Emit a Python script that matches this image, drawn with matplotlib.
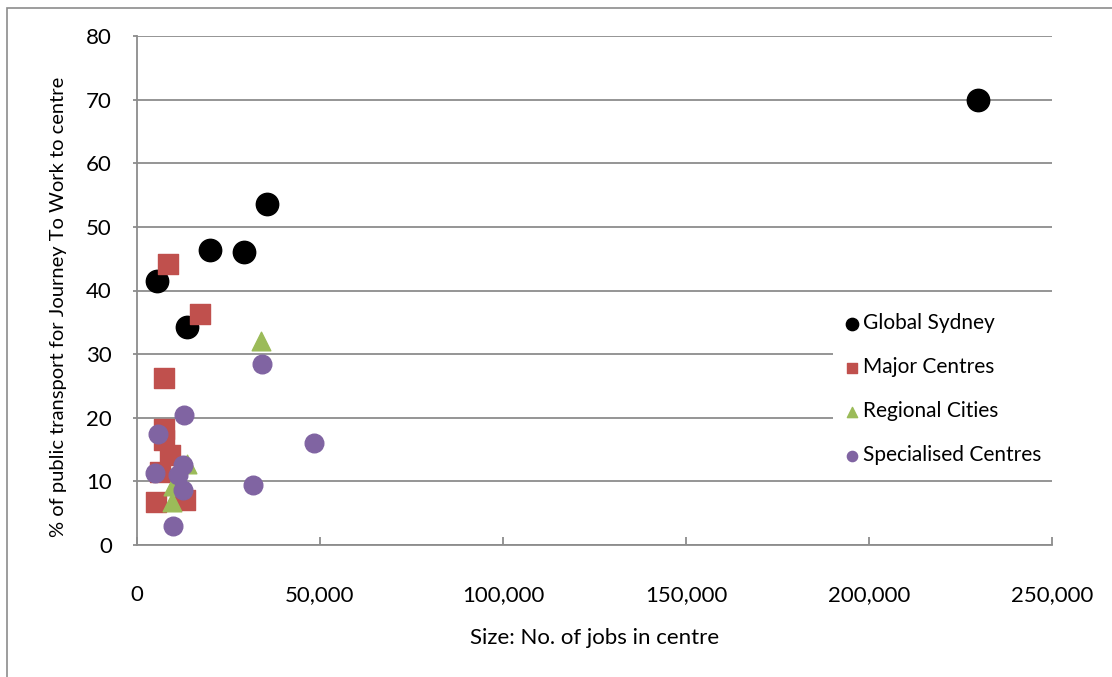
import matplotlib
matplotlib.use("Agg")
import matplotlib.pyplot as plt
from matplotlib.patches import Rectangle
from matplotlib.ticker import FuncFormatter, MultipleLocator

plt.rcParams['font.family'] = ['Lato', 'DejaVu Sans']

# jobs in centre (x) and % public transport for journey to work (y)
global_x = [5500, 13700, 19900, 29200, 35500, 229800]
global_y = [41.5, 34.2, 46.4, 46.1, 53.6, 69.9]

major_x = [8500, 17200, 7400, 7300, 7400, 9000, 6300, 5200, 13100]
major_y = [44.2, 36.3, 26.2, 18.2, 16.5, 14.1, 11.5, 6.8, 7.1]

regional_x = [33800, 13600, 9900, 9500]
regional_y = [32.0, 12.8, 9.2, 6.8]

special_x = [34200, 12900, 5800, 48400, 12700, 4900, 11300, 31600, 12700, 9900]
special_y = [28.4, 20.4, 17.5, 16.1, 12.6, 11.3, 11.0, 9.5, 8.6, 3.0]

fig = plt.figure(figsize=(11.12, 6.77), dpi=100)
ax = fig.add_axes([137 / 1112, 132 / 677, 915 / 1112, 509 / 677])

#outer chart frame like excel
fig.patches.append(Rectangle((7 / 1112, -0.01), 1.0, 1 - 8 / 677 + 0.01, transform=fig.transFigure,
                             fill=False, edgecolor='#8c8c8c', linewidth=1.2))

ax.scatter(global_x, global_y, s=260, color='black', marker='o', label='Global Sydney', zorder=3)
ax.scatter(major_x, major_y, s=200, color='#C0504D', marker='s', label='Major Centres', zorder=3)
ax.scatter(regional_x, regional_y, s=180, color='#9BBB59', marker='^', label='Regional Cities', zorder=3)
ax.scatter(special_x, special_y, s=180, color='#8064A2', marker='o', label='Specialised Centres', zorder=3)

ax.set_xlim(0, 250000)
ax.set_ylim(0, 80)
ax.xaxis.set_major_locator(MultipleLocator(50000))
ax.yaxis.set_major_locator(MultipleLocator(10))
ax.xaxis.set_major_formatter(FuncFormatter(lambda v, p: f"{int(v):,}"))

ax.grid(axis='y', color='#8c8c8c', linewidth=1.3)
ax.set_axisbelow(True)
for side in ['top', 'right']:
    ax.spines[side].set_visible(False)
for side in ['left', 'bottom']:
    ax.spines[side].set_color('#8c8c8c')
    ax.spines[side].set_linewidth(1.3)

ax.tick_params(axis='x', direction='in', length=6, color='#8c8c8c', width=1.3, pad=29, labelsize=16)
ax.tick_params(axis='y', direction='out', length=3, color='#8c8c8c', width=1.3, pad=15, labelsize=16)

ax.set_xlabel("Size: No. of jobs in centre", fontsize=16, labelpad=16)
ax.set_ylabel("% of public transport for Journey To Work to centre", fontsize=14.5)
ax.yaxis.set_label_coords(-0.076, 0.468)

leg = ax.legend(loc='upper left', bbox_to_anchor=(833 / 1112, 1 - 303 / 677),
                bbox_transform=fig.transFigure, frameon=True, fancybox=False,
                edgecolor='white', framealpha=1, fontsize=15, markerscale=0.55,
                handletextpad=0.15, handlelength=0.8, labelspacing=1.15, borderpad=0.5,
                borderaxespad=0)
leg.get_frame().set_linewidth(0)

fig.savefig("out.png", dpi=100)
